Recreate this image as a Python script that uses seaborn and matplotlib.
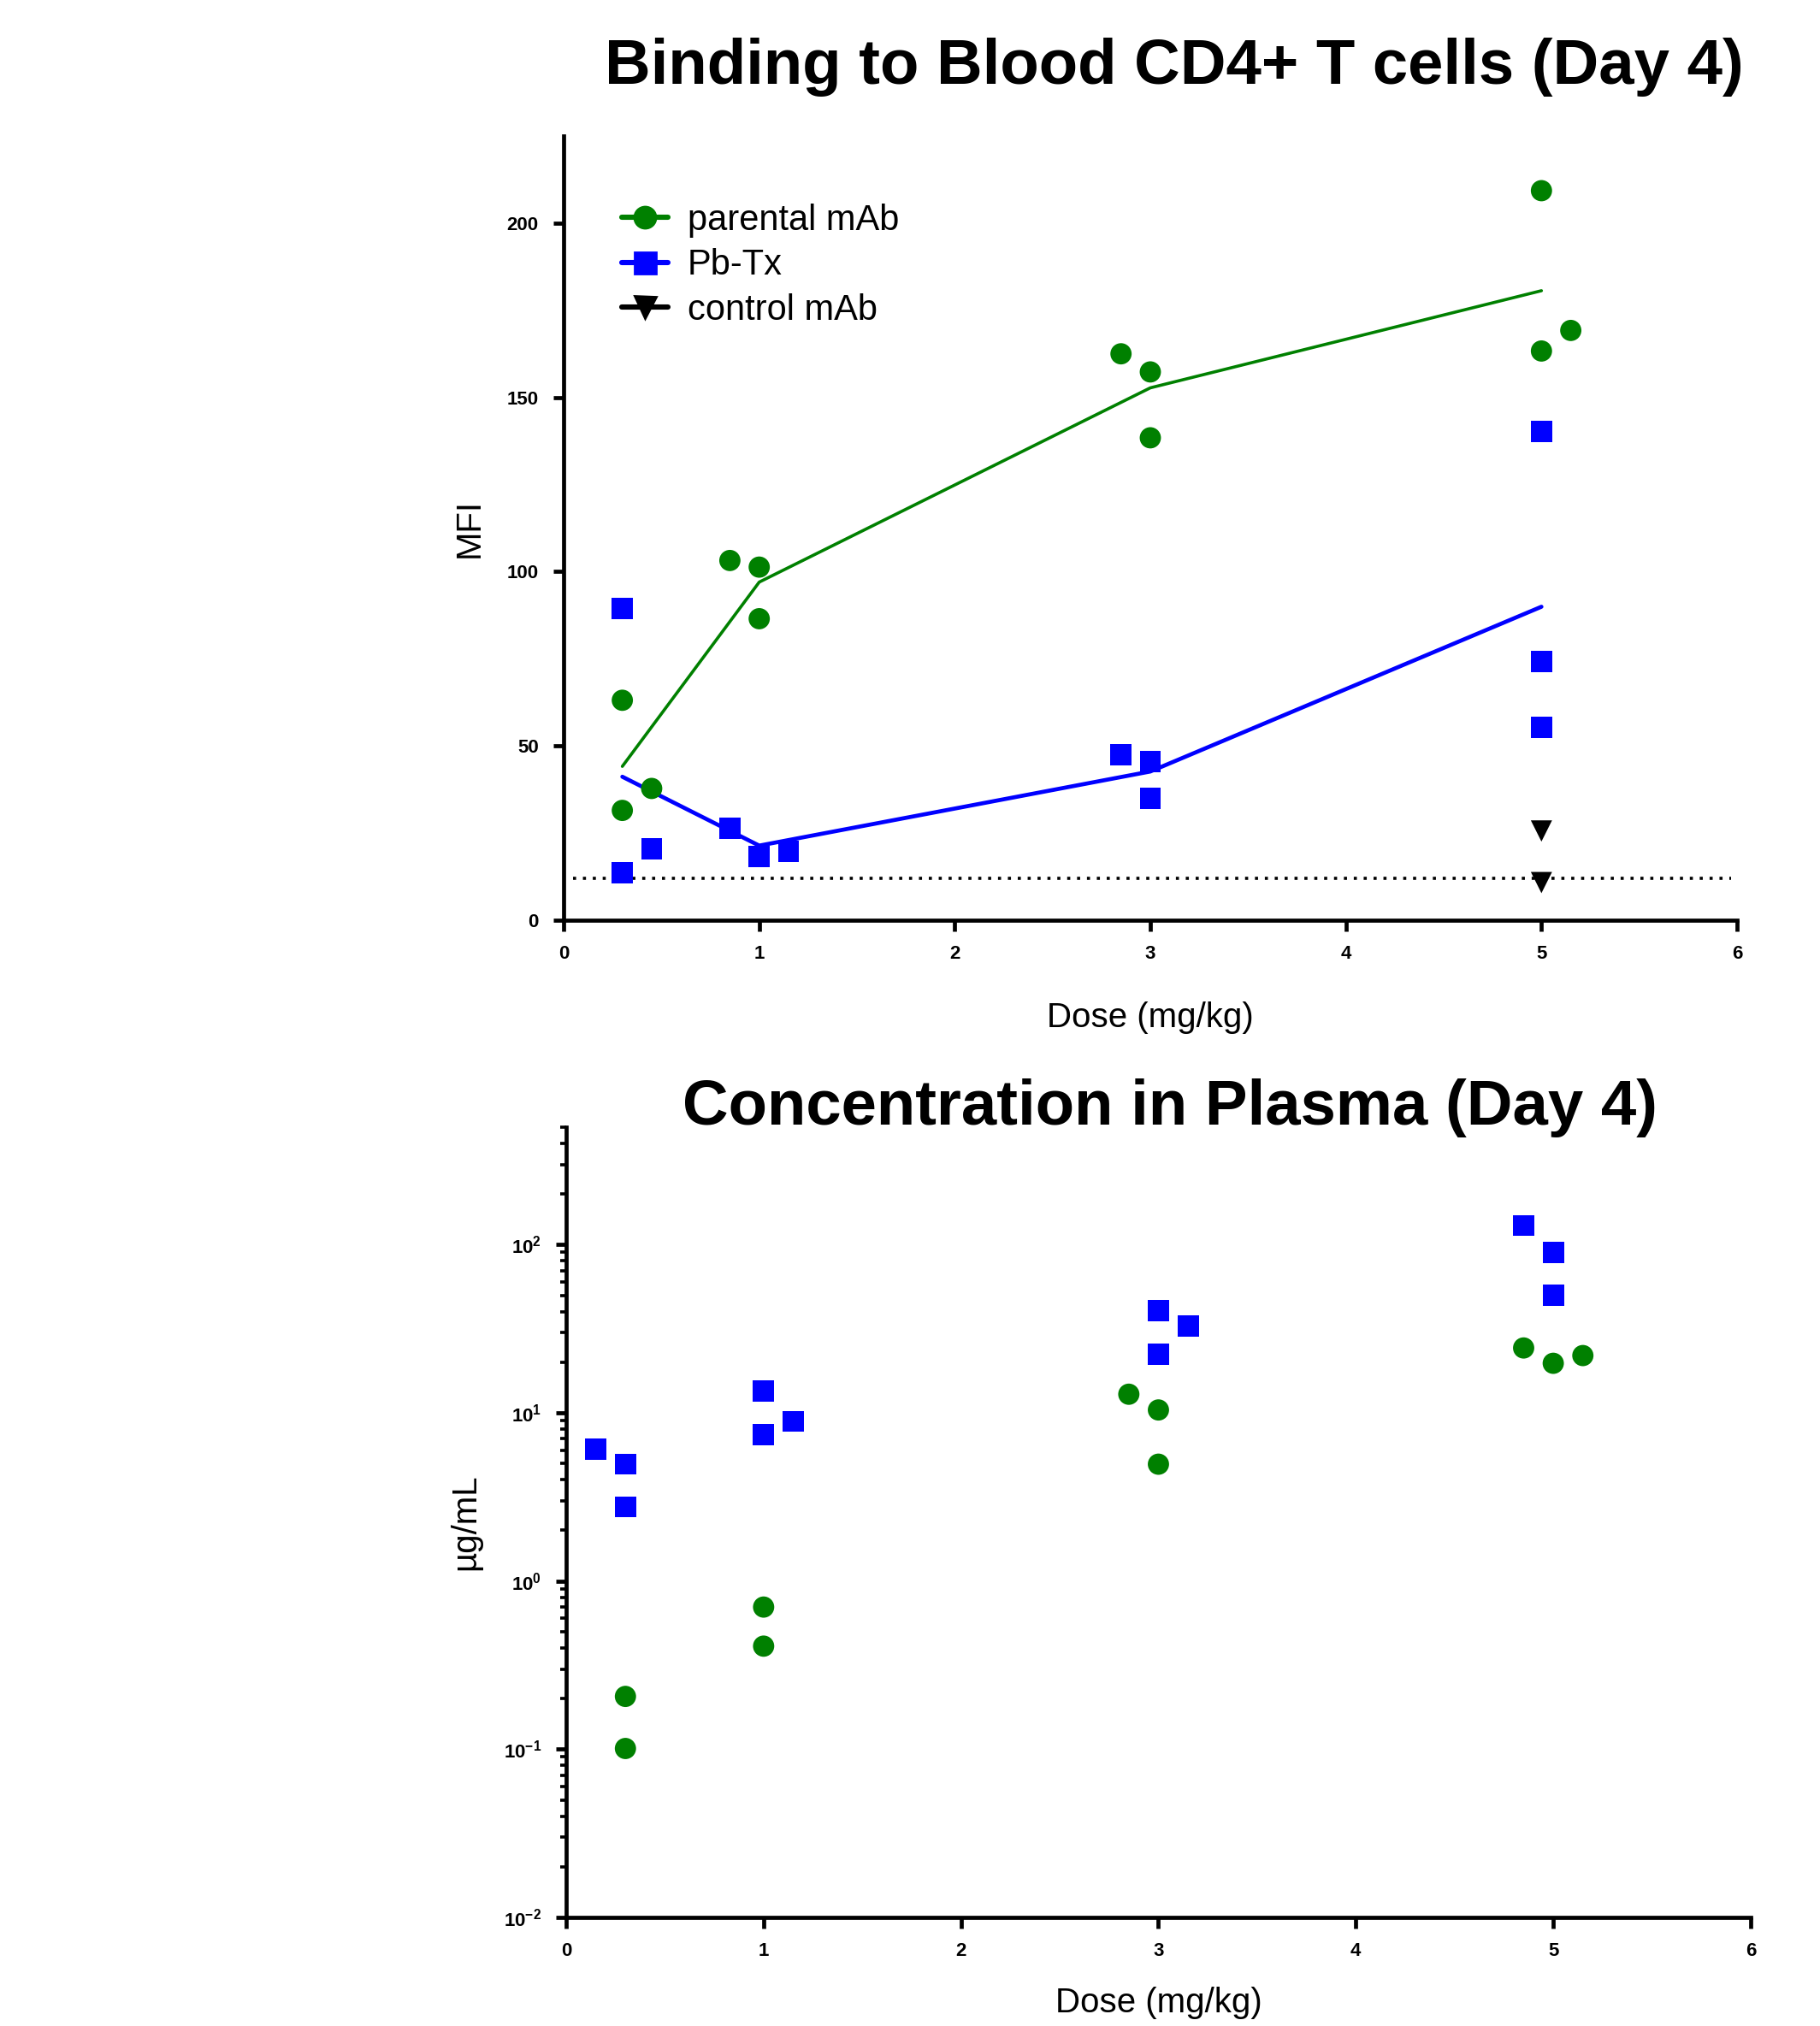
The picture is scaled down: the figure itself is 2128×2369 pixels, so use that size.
import numpy as np
import pandas as pd
import matplotlib
matplotlib.use("Agg")
import matplotlib.pyplot as plt
from matplotlib.lines import Line2D
from matplotlib.ticker import FixedLocator, FuncFormatter, LogLocator, NullFormatter
import seaborn as sns

# --- Data: binding to blood CD4+ T cells (MFI) ---
group_names = ["parental mAb", "Pb-Tx", "control mAb"]
colors = {"parental mAb": "#008000", "Pb-Tx": "#0000FF", "control mAb": "#000000"}
markers = {"parental mAb": "o", "Pb-Tx": "s", "control mAb": "v"}

parental_dose = [0.3, 0.3, 0.3, 1, 1, 1, 3, 3, 3, 5, 5, 5]
parental_xpos = [0.3, 0.3, 0.45, 0.85, 1.0, 1.0, 2.85, 3.0, 3.0, 5.0, 5.0, 5.15]
parental_mfi = [63.1, 31.5, 37.8, 103.2, 101.3, 86.5, 162.5, 157.3, 138.4, 209.3, 163.3, 169.2]

pbtx_dose = [0.3, 0.3, 0.3, 1, 1, 1, 3, 3, 3, 5, 5, 5]
pbtx_xpos = [0.3, 0.3, 0.45, 0.85, 1.0, 1.15, 2.85, 3.0, 3.0, 5.0, 5.0, 5.0]
pbtx_mfi = [89.4, 13.7, 20.4, 26.3, 18.2, 19.7, 47.5, 45.6, 34.9, 140.3, 74.2, 55.3]

control_dose = [5, 5]
control_xpos = [5.0, 5.0]
control_mfi = [25.6, 10.8]

background_mfi = 11.9

# --- Data: concentration in plasma (ug/mL) ---
plasma_parental_xpos = [0.3, 0.3, 1.0, 1.0, 2.85, 3.0, 3.0, 4.85, 5.0, 5.15]
plasma_parental_conc = [0.206, 0.101, 0.70, 0.41, 12.9, 10.4, 4.95, 24.3, 19.7, 21.9]
plasma_pbtx_xpos = [0.15, 0.3, 0.3, 1.0, 1.0, 1.15, 3.0, 3.15, 3.0, 4.85, 5.0, 5.0]
plasma_pbtx_conc = [6.1, 4.95, 2.76, 13.5, 7.4, 8.9, 40.6, 32.8, 22.2, 130, 90, 50]

binding = pd.concat([
    pd.DataFrame({"group": "parental mAb", "dose": parental_dose, "x": parental_xpos, "mfi": parental_mfi}),
    pd.DataFrame({"group": "Pb-Tx", "dose": pbtx_dose, "x": pbtx_xpos, "mfi": pbtx_mfi}),
    pd.DataFrame({"group": "control mAb", "dose": control_dose, "x": control_xpos, "mfi": control_mfi}),
], ignore_index=True)

plasma = pd.concat([
    pd.DataFrame({"group": "parental mAb", "x": plasma_parental_xpos, "conc": plasma_parental_conc}),
    pd.DataFrame({"group": "Pb-Tx", "x": plasma_pbtx_xpos, "conc": plasma_pbtx_conc}),
], ignore_index=True)

# --- Style ---
sns.set_style("ticks")
plt.rcParams["font.family"] = ["Liberation Sans", "DejaVu Sans"]
plt.rcParams["mathtext.fontset"] = "custom"
plt.rcParams["mathtext.rm"] = "Liberation Sans:bold"
plt.rcParams["mathtext.bf"] = "Liberation Sans:bold"
plt.rcParams["mathtext.it"] = "Liberation Sans:bold"
for key in ["text.color", "axes.labelcolor", "xtick.color", "ytick.color", "axes.edgecolor"]:
    plt.rcParams[key] = "black"
plt.rcParams["axes.linewidth"] = 1.7
plt.rcParams["xtick.major.width"] = 1.7
plt.rcParams["ytick.major.width"] = 1.7
plt.rcParams["ytick.minor.width"] = 1.3
plt.rcParams["xtick.major.size"] = 4.5
plt.rcParams["ytick.major.size"] = 4.5
plt.rcParams["ytick.minor.size"] = 2.5

fig = plt.figure(figsize=(10.64, 11.845), dpi=200)
ax1 = fig.add_axes([0.3097, 0.5458, 0.6447, 0.3871])
ax2 = fig.add_axes([0.3111, 0.0536, 0.6508, 0.3901])

# --- Top panel ---
sns.lineplot(data=binding[binding["group"] != "control mAb"], x="dose", y="mfi", hue="group",
             palette=colors, estimator="mean", errorbar=None, ax=ax1, legend=False)
for line, lw in zip(ax1.get_lines(), [1.3, 1.7]):
    line.set_linewidth(lw)
sns.scatterplot(data=binding, x="x", y="mfi", hue="group", style="group",
                palette=colors, markers=markers, s=80, linewidth=0, ax=ax1, legend=False, zorder=3)
ax1.axhline(background_mfi, xmin=0.008, xmax=0.995, color="black", linestyle=(0, (1, 2.2)), linewidth=1.3)

ax1.set_xlim(0, 6)
ax1.set_ylim(0, 225)
ax1.yaxis.set_major_locator(FixedLocator([0, 50, 100, 150, 200]))
ax1.set_xticks(range(0, 7))
ax1.set_xlabel("Dose (mg/kg)", fontsize=14.5, labelpad=16)
ax1.set_ylabel("MFI", fontsize=14.5, labelpad=9)
ax1.set_title("Binding to Blood CD4+ T cells (Day 4)", fontsize=26.8, fontweight="bold",
              x=0.52, pad=22)

handles = [Line2D([0], [0], color=colors[g], marker=markers[g], markersize=9, linewidth=2.2)
           for g in group_names]
ax1.legend(handles, group_names, loc="upper left", bbox_to_anchor=(0.022, 0.955), frameon=False,
           fontsize=15, handlelength=1.3, handletextpad=0.55, labelspacing=0.3)

# --- Bottom panel ---
sns.scatterplot(data=plasma, x="x", y="conc", hue="group", style="group",
                palette=colors, markers=markers, s=80, linewidth=0, ax=ax2, legend=False)
ax2.set_yscale("log")
ax2.set_xlim(0, 6)
ax2.set_ylim(0.01, 500)
ax2.set_xticks(range(0, 7))
ax2.yaxis.set_major_locator(LogLocator(base=10, numticks=10))
ax2.yaxis.set_minor_locator(LogLocator(base=10, subs=np.arange(2, 10), numticks=10))
ax2.yaxis.set_minor_formatter(NullFormatter())
ax2.yaxis.set_major_formatter(FuncFormatter(lambda v, p: r"$\mathrm{10^{%d}}$" % int(round(np.log10(v)))))
ax2.set_xlabel("Dose (mg/kg)", fontsize=14.5, labelpad=11)
ax2.set_ylabel("µg/mL", fontsize=14.5, labelpad=9)
ax2.set_title("Concentration in Plasma (Day 4)", fontsize=26.8, fontweight="bold",
              x=0.51, y=1.0, pad=1)

for ax in (ax1, ax2):
    sns.despine(ax=ax)
    ax.tick_params(axis="both", which="major", labelsize=8, pad=6)
    for lab in ax.get_xticklabels() + ax.get_yticklabels():
        lab.set_fontweight("bold")

fig.savefig("out.png", dpi=200)
